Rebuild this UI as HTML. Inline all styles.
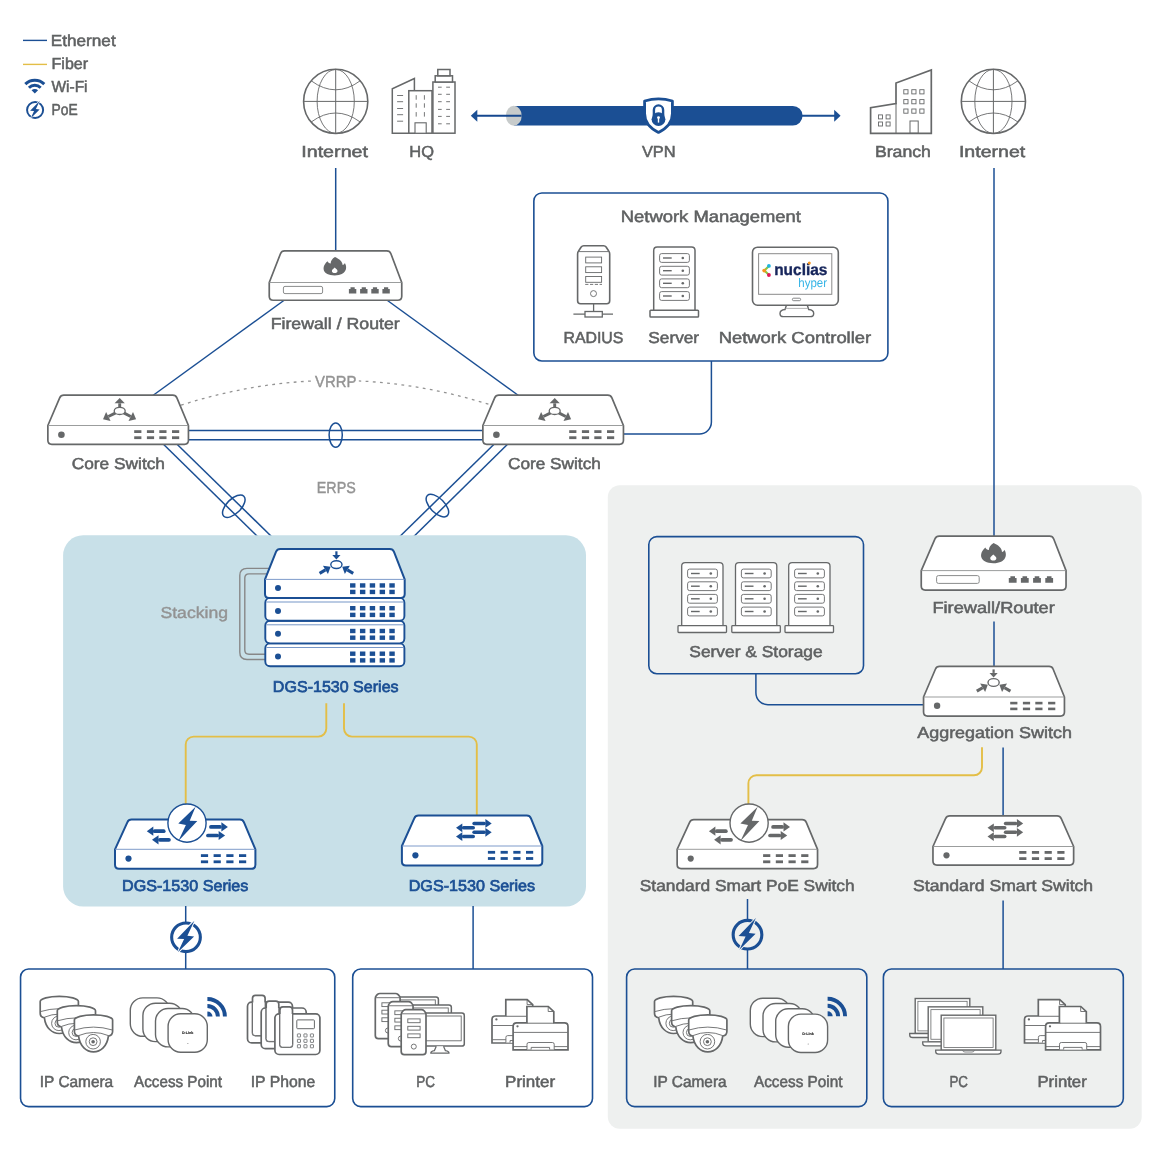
<!DOCTYPE html>
<html><head><meta charset="utf-8"><title>Network Diagram</title>
<style>html,body{margin:0;padding:0;background:#fff}svg{display:block;will-change:transform}text{font-family:"Liberation Sans",sans-serif;text-rendering:geometricPrecision}</style>
</head><body>
<svg width="1160" height="1160" viewBox="0 0 1160 1160">
<rect width="1160" height="1160" fill="#fff"/>
<g stroke="#1b4f94" stroke-width="1.5" fill="none">
<line x1="163.2" y1="444" x2="258" y2="537"/>
<line x1="176.8" y1="444" x2="272" y2="537"/>
<line x1="494.3" y1="444" x2="399.3" y2="537"/>
<line x1="507.8" y1="444" x2="413.3" y2="537"/>
</g>
<rect x="63.1" y="535.3" width="522.9" height="371.1" rx="20" fill="#c8e0e8"/>
<rect x="607.8" y="485.2" width="533.9" height="643.5" rx="12" fill="#eef0ef"/>
<g stroke="#1b4f94" stroke-width="1.5" fill="none">
<line x1="335.7" y1="168" x2="335.7" y2="252"/>
<line x1="284.5" y1="300" x2="151.5" y2="396.5"/>
<line x1="386.8" y1="300" x2="519.8" y2="396.5"/>
<line x1="186" y1="430.4" x2="485" y2="430.4"/>
<line x1="186" y1="439.8" x2="485" y2="439.8"/>
<ellipse cx="335.7" cy="435.1" rx="6.6" ry="12.2"/>
<ellipse cx="233.8" cy="506.2" rx="7.2" ry="14.2" transform="rotate(45 233.8 506.2)"/>
<ellipse cx="437.4" cy="505.6" rx="7.2" ry="14.2" transform="rotate(-45 437.4 505.6)"/>
<path d="M711.4,360 V422 A12,12 0 0 1 699.4,434 H621"/>
<line x1="994" y1="168" x2="994" y2="537"/>
<line x1="994" y1="621.5" x2="994" y2="667"/>
<path d="M755.9,673 V692.7 A12,12 0 0 0 767.9,704.7 H925"/>
<line x1="1003.1" y1="747.6" x2="1003.1" y2="817"/>
<line x1="1003.1" y1="900.6" x2="1003.1" y2="969"/>
<line x1="747.5" y1="899" x2="747.5" y2="969"/>
<line x1="185.7" y1="906" x2="185.7" y2="969"/>
<line x1="473.1" y1="906" x2="473.1" y2="969"/>
</g>
<path d="M181,405.2 Q336,355.6 491.5,405.2" fill="none" stroke="#939393" stroke-width="1.3" stroke-dasharray="2.8 4.4"/>
<rect x="313.3" y="372" width="45.4" height="18" fill="#fff"/>
<g stroke="#e3be47" stroke-width="1.9" fill="none">
<path d="M326.3,703.2 V728.6 A8,8 0 0 1 318.3,736.6 H193.7 A8,8 0 0 0 185.7,744.6 V805"/>
<path d="M344,703.2 V728.6 A8,8 0 0 0 352,736.6 H468.8 A8,8 0 0 1 476.8,744.6 V816.5"/>
<path d="M982,747.2 V767.3 A8,8 0 0 1 974,775.3 H756.4 A8,8 0 0 0 748.4,783.3 V805"/>
</g>
<g fill="none" stroke="#1b4f94" stroke-width="1.6">
<rect x="533.85" y="192.95" width="354.05" height="168.05" rx="8" fill="#fff"/>
<rect x="648.8" y="536.6" width="214.7" height="137.1" rx="8"/>
<rect x="20.55" y="969.0" width="314.2" height="137.6" rx="8" fill="#fff"/>
<rect x="352.7" y="969.0" width="239.8" height="137.6" rx="8" fill="#fff"/>
<rect x="626.6" y="969.0" width="240.2" height="137.6" rx="8"/>
<rect x="883.4" y="969.0" width="239.9" height="137.6" rx="8"/>
</g>
<line x1="23" y1="40.4" x2="47" y2="40.4" stroke="#1b4f94" stroke-width="1.4"/>
<line x1="23" y1="64.4" x2="47" y2="64.4" stroke="#e3be47" stroke-width="1.4"/>
<path d="M25.32,84.12 A13.4,13.4 0 0 1 44.28,84.12" fill="none" stroke="#1b4f94" stroke-width="3.0"/>
<path d="M28.93,87.73 A8.3,8.3 0 0 1 40.67,87.73" fill="none" stroke="#1b4f94" stroke-width="2.9"/>
<path d="M34.8,93.6 L31.55,90.35 A4.6,4.6 0 0 1 38.05,90.35 Z" fill="#1b4f94"/>
<circle cx="35.1" cy="110" r="8.04" fill="#fff" stroke="#1b4f94" stroke-width="1.94"/>
<polygon points="39.80,100.70 30.12,110.78 34.04,110.95 30.56,118.40 39.64,109.50 35.88,109.10" fill="#fff" stroke="#fff" stroke-width="1.12" stroke-linejoin="miter"/>
<polygon points="39.80,100.70 30.12,110.78 34.04,110.95 30.56,118.40 39.64,109.50 35.88,109.10" fill="#1b4f94"/>
<text x="50.72" y="45.6" font-size="15.9" font-weight="normal" fill="#5f6162" stroke="#5f6162" stroke-width="0.52" textLength="64.97" lengthAdjust="spacingAndGlyphs">Ethernet</text>
<text x="51.51" y="68.6" font-size="15.9" font-weight="normal" fill="#5f6162" stroke="#5f6162" stroke-width="0.52" textLength="36.60" lengthAdjust="spacingAndGlyphs">Fiber</text>
<text x="51.43" y="92.3" font-size="15.9" font-weight="normal" fill="#5f6162" stroke="#5f6162" stroke-width="0.52" textLength="36.14" lengthAdjust="spacingAndGlyphs">Wi-Fi</text>
<text x="51.54" y="115.0" font-size="15.9" font-weight="normal" fill="#5f6162" stroke="#5f6162" stroke-width="0.52" textLength="26.12" lengthAdjust="spacingAndGlyphs">PoE</text>
<g fill="none" stroke="#666869">
<circle cx="335.7" cy="101.4" r="32.1" stroke-width="1.6" fill="#fff"/>
<ellipse cx="335.7" cy="101.4" rx="18.6" ry="32" stroke-width="0.9"/>
<line x1="335.7" y1="69.4" x2="335.7" y2="133.4" stroke-width="1"/>
<line x1="303.7" y1="101.4" x2="367.7" y2="101.4" stroke-width="1"/>
<path d="M311.2,80.80000000000001 Q335.7,98.80000000000001 360.2,80.80000000000001" stroke-width="0.9"/>
<path d="M311.2,122.0 Q335.7,104.0 360.2,122.0" stroke-width="0.9"/>
</g>
<g fill="none" stroke="#666869">
<circle cx="993.4" cy="101.4" r="32.1" stroke-width="1.6" fill="#fff"/>
<ellipse cx="993.4" cy="101.4" rx="18.6" ry="32" stroke-width="0.9"/>
<line x1="993.4" y1="69.4" x2="993.4" y2="133.4" stroke-width="1"/>
<line x1="961.4" y1="101.4" x2="1025.4" y2="101.4" stroke-width="1"/>
<path d="M968.9,80.80000000000001 Q993.4,98.80000000000001 1017.9,80.80000000000001" stroke-width="0.9"/>
<path d="M968.9,122.0 Q993.4,104.0 1017.9,122.0" stroke-width="0.9"/>
</g>
<g fill="#fff" stroke="#666869" stroke-width="1.5" stroke-linejoin="miter">
<path d="M392.3,133.2 V88.7 L414.4,78.5 V133.2 Z"/>
<rect x="408.8" y="90.7" width="23.2" height="42.5"/>
<rect x="432.9" y="82" width="22.1" height="51.2"/>
<rect x="435.2" y="75.8" width="17.3" height="6.2"/>
<rect x="437.8" y="69.5" width="12.2" height="6.3"/>
<rect x="415" y="122.8" width="11.2" height="10.4" stroke-width="1.1"/>
</g>
<g stroke="#666869" stroke-width="0.9" fill="none">
<line x1="397.1" y1="95.5" x2="403.1" y2="95.5"/>
<line x1="397.1" y1="101.7" x2="403.1" y2="101.7"/>
<line x1="397.1" y1="108.5" x2="403.1" y2="108.5"/>
<line x1="397.1" y1="114.7" x2="403.1" y2="114.7"/>
<line x1="397.1" y1="121.2" x2="403.1" y2="121.2"/>
<line x1="416.2" y1="95.2" x2="416.2" y2="99.7"/>
<line x1="416.2" y1="103.3" x2="416.2" y2="107.7"/>
<line x1="416.2" y1="112.1" x2="416.2" y2="116.6"/>
<line x1="424.4" y1="95.2" x2="424.4" y2="99.7"/>
<line x1="424.4" y1="103.3" x2="424.4" y2="107.7"/>
<line x1="424.4" y1="112.1" x2="424.4" y2="116.6"/>
<line x1="438" y1="87.2" x2="441.7" y2="87.2"/>
<line x1="446.2" y1="87.2" x2="450" y2="87.2"/>
<line x1="438" y1="94.3" x2="441.7" y2="94.3"/>
<line x1="446.2" y1="94.3" x2="450" y2="94.3"/>
<line x1="438" y1="101.7" x2="441.7" y2="101.7"/>
<line x1="446.2" y1="101.7" x2="450" y2="101.7"/>
<line x1="438" y1="109.4" x2="441.7" y2="109.4"/>
<line x1="446.2" y1="109.4" x2="450" y2="109.4"/>
<line x1="438" y1="116.4" x2="441.7" y2="116.4"/>
<line x1="446.2" y1="116.4" x2="450" y2="116.4"/>
<line x1="438" y1="123.8" x2="441.7" y2="123.8"/>
<line x1="446.2" y1="123.8" x2="450" y2="123.8"/>
</g>
<path d="M870.6,133.3 V107.7 L896,103.5 V83 L931.3,70 V133.3 Z" fill="#fff" stroke="#666869" stroke-width="1.7"/>
<g stroke="#666869" stroke-width="1" fill="none">
<line x1="896" y1="103" x2="896" y2="133.3"/>
<rect x="903.8" y="89.7" width="4.2" height="4.2" stroke-width="0.9"/>
<rect x="903.8" y="99.60000000000001" width="4.2" height="4.2" stroke-width="0.9"/>
<rect x="903.8" y="109.0" width="4.2" height="4.2" stroke-width="0.9"/>
<rect x="911.8" y="89.7" width="4.2" height="4.2" stroke-width="0.9"/>
<rect x="911.8" y="99.60000000000001" width="4.2" height="4.2" stroke-width="0.9"/>
<rect x="911.8" y="109.0" width="4.2" height="4.2" stroke-width="0.9"/>
<rect x="919.8" y="89.7" width="4.2" height="4.2" stroke-width="0.9"/>
<rect x="919.8" y="99.60000000000001" width="4.2" height="4.2" stroke-width="0.9"/>
<rect x="919.8" y="109.0" width="4.2" height="4.2" stroke-width="0.9"/>
<rect x="878.5" y="114.9" width="4.0" height="4.0" stroke-width="0.9"/>
<rect x="878.5" y="122.0" width="4.0" height="4.0" stroke-width="0.9"/>
<rect x="886.1" y="114.9" width="4.0" height="4.0" stroke-width="0.9"/>
<rect x="886.1" y="122.0" width="4.0" height="4.0" stroke-width="0.9"/>
<rect x="910" y="121" width="8.2" height="12.3"/>
</g>
<line x1="800" y1="115.75" x2="835.5" y2="115.75" stroke="#1b4f94" stroke-width="2"/>
<polygon points="840.6,115.75 834.2,109.75 834.2,121.75" fill="#1b4f94"/>
<path d="M514,106 H792.8 a9.75,9.75 0 0 1 0,19.5 H514 Z" fill="#1b4f94"/>
<ellipse cx="513.8" cy="115.75" rx="7.9" ry="9.9" fill="#c7cbcb"/>
<line x1="476" y1="115.75" x2="521.6" y2="115.75" stroke="#15478f" stroke-width="1.9"/>
<polygon points="470.8,115.75 477.3,109.65 477.3,121.85" fill="#1b4f94"/>
<path d="M644.6,101 Q658.5,96.6 672.4,101 V113.5 C672.4,122 666.5,128.5 658.5,132.4 C650.5,128.5 644.6,122 644.6,113.5 Z" fill="#fff" stroke="#1b4f94" stroke-width="2.8" stroke-linejoin="round"/>
<circle cx="658.5" cy="119.2" r="6.9" fill="#1b4f94"/>
<path d="M653.9,116 V110 a4.6,4.6 0 0 1 9.2,0 V116" fill="none" stroke="#1b4f94" stroke-width="2.4"/>
<circle cx="658.5" cy="117.6" r="1.4" fill="#fff"/><rect x="657.8" y="117.6" width="1.4" height="5" fill="#fff"/>
<text x="301.23" y="157.4" font-size="15.9" font-weight="normal" fill="#5f6162" stroke="#5f6162" stroke-width="0.52" textLength="66.80" lengthAdjust="spacingAndGlyphs">Internet</text>
<text x="409.35" y="157.4" font-size="15.9" font-weight="normal" fill="#5f6162" stroke="#5f6162" stroke-width="0.52" textLength="24.67" lengthAdjust="spacingAndGlyphs">HQ</text>
<text x="641.93" y="157.4" font-size="15.9" font-weight="normal" fill="#5f6162" stroke="#5f6162" stroke-width="0.52" textLength="33.75" lengthAdjust="spacingAndGlyphs">VPN</text>
<text x="874.92" y="157.4" font-size="15.9" font-weight="normal" fill="#5f6162" stroke="#5f6162" stroke-width="0.52" textLength="56.04" lengthAdjust="spacingAndGlyphs">Branch</text>
<text x="958.95" y="157.4" font-size="15.9" font-weight="normal" fill="#5f6162" stroke="#5f6162" stroke-width="0.52" textLength="66.33" lengthAdjust="spacingAndGlyphs">Internet</text>
<path d="M284.55,250.95 L386.85,250.95 Q389.85,250.95 390.91,253.76 L401.75,282.50 L401.75,296.25 Q401.75,300.25 397.75,300.25 L273.25,300.25 Q269.25,300.25 269.25,296.25 L269.25,282.50 L280.46,253.75 Q281.55,250.95 284.55,250.95 Z" fill="#fff" stroke="#666869" stroke-width="1.7" stroke-linejoin="round"/>
<line x1="269.25" y1="282.50" x2="401.75" y2="282.50" stroke="#909292" stroke-width="0.9"/>
<path d="M335.00,257.10 C339.50,259.30 342.50,261.70 342.60,265.10 C343.70,264.90 344.50,264.20 344.80,263.10 C347.50,267.10 347.10,275.30 334.70,275.40 C322.30,275.30 320.90,266.90 327.50,261.20 C327.90,262.50 329.10,263.20 330.70,263.40 C330.70,261.10 332.10,258.70 335.00,257.10 Z" fill="#666869"/>
<path d="M334.70,267.50 C336.10,268.90 337.50,269.70 337.50,270.90 C337.50,272.30 336.20,273.00 334.70,273.00 C333.20,273.00 331.90,272.30 331.90,270.90 C331.90,269.70 333.30,268.90 334.70,267.50 Z" fill="#fff"/>
<rect x="283.4" y="286.4" width="39.2" height="7.2" rx="1.6" fill="#fff" stroke="#8a8c8c" stroke-width="1"/>
<path d="M348.9,293.59999999999997 V289.0 H350.5 V287.2 H354.69999999999993 V289.0 H356.29999999999995 V293.59999999999997 Z" fill="#666869"/>
<path d="M360.1,293.59999999999997 V289.0 H361.70000000000005 V287.2 H365.9 V289.0 H367.5 V293.59999999999997 Z" fill="#666869"/>
<path d="M371.3,293.59999999999997 V289.0 H372.90000000000003 V287.2 H377.09999999999997 V289.0 H378.7 V293.59999999999997 Z" fill="#666869"/>
<path d="M382.4,293.59999999999997 V289.0 H384.0 V287.2 H388.19999999999993 V289.0 H389.79999999999995 V293.59999999999997 Z" fill="#666869"/>
<text x="270.69" y="329.0" font-size="15.9" font-weight="normal" fill="#5f6162" stroke="#5f6162" stroke-width="0.52" textLength="129.05" lengthAdjust="spacingAndGlyphs">Firewall / Router</text>
<path d="M63.85,395.15 L172.75,395.15 Q175.75,395.15 176.91,397.92 L188.44,425.50 L188.44,440.35 Q188.44,444.35 184.44,444.35 L51.86,444.35 Q47.86,444.35 47.86,440.35 L47.86,425.50 L59.67,397.91 Q60.85,395.15 63.85,395.15 Z" fill="#fff" stroke="#666869" stroke-width="1.7" stroke-linejoin="round"/>
<line x1="47.86" y1="425.50" x2="188.44" y2="425.50" stroke="#909292" stroke-width="0.9"/>
<circle cx="61.4" cy="434.7" r="3.3" fill="#666869"/>
<rect x="134.20" y="430.20" width="7.2" height="2.8" fill="#666869"/>
<rect x="134.20" y="436.30" width="7.2" height="2.8" fill="#666869"/>
<rect x="146.90" y="430.20" width="7.2" height="2.8" fill="#666869"/>
<rect x="146.90" y="436.30" width="7.2" height="2.8" fill="#666869"/>
<rect x="159.30" y="430.20" width="7.2" height="2.8" fill="#666869"/>
<rect x="159.30" y="436.30" width="7.2" height="2.8" fill="#666869"/>
<rect x="172.00" y="430.20" width="7.2" height="2.8" fill="#666869"/>
<rect x="172.00" y="436.30" width="7.2" height="2.8" fill="#666869"/>
<line x1="119.70" y1="407.90" x2="119.70" y2="403.30" stroke="#666869" stroke-width="2.9"/>
<polygon points="119.70,398.10 124.80,403.30 114.60,403.30" fill="#666869"/>
<line x1="115.70" y1="412.90" x2="108.38" y2="416.53" stroke="#666869" stroke-width="2.9"/>
<polygon points="103.00,419.20 106.15,412.05 110.60,421.01" fill="#666869"/>
<line x1="123.70" y1="412.90" x2="130.75" y2="416.48" stroke="#666869" stroke-width="2.9"/>
<polygon points="136.10,419.20 128.49,420.94 133.02,412.02" fill="#666869"/>
<ellipse cx="119.7" cy="410.9" rx="5.5" ry="3.6" fill="#fff" stroke="#666869" stroke-width="1.3"/>
<path d="M498.85,395.15 L607.75,395.15 Q610.75,395.15 611.91,397.92 L623.45,425.50 L623.45,440.35 Q623.45,444.35 619.45,444.35 L486.86,444.35 Q482.86,444.35 482.86,440.35 L482.86,425.50 L494.67,397.91 Q495.85,395.15 498.85,395.15 Z" fill="#fff" stroke="#666869" stroke-width="1.7" stroke-linejoin="round"/>
<line x1="482.86" y1="425.50" x2="623.45" y2="425.50" stroke="#909292" stroke-width="0.9"/>
<circle cx="496.4" cy="434.7" r="3.3" fill="#666869"/>
<rect x="569.20" y="430.20" width="7.2" height="2.8" fill="#666869"/>
<rect x="569.20" y="436.30" width="7.2" height="2.8" fill="#666869"/>
<rect x="581.90" y="430.20" width="7.2" height="2.8" fill="#666869"/>
<rect x="581.90" y="436.30" width="7.2" height="2.8" fill="#666869"/>
<rect x="594.30" y="430.20" width="7.2" height="2.8" fill="#666869"/>
<rect x="594.30" y="436.30" width="7.2" height="2.8" fill="#666869"/>
<rect x="607.00" y="430.20" width="7.2" height="2.8" fill="#666869"/>
<rect x="607.00" y="436.30" width="7.2" height="2.8" fill="#666869"/>
<line x1="554.70" y1="407.90" x2="554.70" y2="403.30" stroke="#666869" stroke-width="2.9"/>
<polygon points="554.70,398.10 559.80,403.30 549.60,403.30" fill="#666869"/>
<line x1="550.70" y1="412.90" x2="543.38" y2="416.53" stroke="#666869" stroke-width="2.9"/>
<polygon points="538.00,419.20 541.15,412.05 545.60,421.01" fill="#666869"/>
<line x1="558.70" y1="412.90" x2="565.75" y2="416.48" stroke="#666869" stroke-width="2.9"/>
<polygon points="571.10,419.20 563.49,420.94 568.02,412.02" fill="#666869"/>
<ellipse cx="554.7" cy="410.9" rx="5.5" ry="3.6" fill="#fff" stroke="#666869" stroke-width="1.3"/>
<text x="71.75" y="468.9" font-size="15.9" font-weight="normal" fill="#5f6162" stroke="#5f6162" stroke-width="0.52" textLength="93.23" lengthAdjust="spacingAndGlyphs">Core Switch</text>
<text x="508.06" y="468.9" font-size="15.9" font-weight="normal" fill="#5f6162" stroke="#5f6162" stroke-width="0.52" textLength="92.77" lengthAdjust="spacingAndGlyphs">Core Switch</text>
<text x="315.00" y="386.9" font-size="15.9" font-weight="normal" fill="#939393" stroke="#939393" stroke-width="0.4" textLength="41.40" lengthAdjust="spacingAndGlyphs">VRRP</text>
<text x="316.83" y="492.8" font-size="15.9" font-weight="normal" fill="#939393" stroke="#939393" stroke-width="0.4" textLength="38.93" lengthAdjust="spacingAndGlyphs">ERPS</text>
<text x="620.74" y="221.6" font-size="16.3" font-weight="normal" fill="#5f6162" stroke="#5f6162" stroke-width="0.52" textLength="180.13" lengthAdjust="spacingAndGlyphs">Network Management</text>
<g stroke="#666869" fill="#fff">
<path d="M577.6,300.8 V254 Q577.6,252 578.6,251 L581.2,247 Q582.1,245.8 583.7,245.8 H603.6 Q605.2,245.8 606.1,247 L608.7,251 Q609.7,252 609.7,254 V300.8 Q609.7,303.8 606.7,303.8 H580.6 Q577.6,303.8 577.6,300.8 Z" stroke-width="1.6" stroke-linejoin="round"/>
<line x1="578.6" y1="251.6" x2="608.6" y2="251.6" stroke-width="0.9"/>
<rect x="585.7" y="257.1" width="15.9" height="5.8" stroke-width="0.9"/>
<rect x="585.7" y="266.8" width="15.9" height="5.8" stroke-width="0.9"/>
<rect x="585.7" y="276.5" width="15.9" height="5.8" stroke-width="0.9"/>
<line x1="585.2" y1="284.4" x2="602" y2="284.4" stroke-width="0.9" stroke-dasharray="3.2 1.6"/>
<circle cx="593.5" cy="293.6" r="3" stroke-width="0.9"/>
<line x1="593.6" y1="303.8" x2="593.6" y2="311.3" stroke-width="1.3"/>
<line x1="573.4" y1="314.2" x2="613" y2="314.2" stroke-width="1.3"/>
<rect x="585" y="311.5" width="17.3" height="5.5" stroke-width="1.3"/>
</g>
<g transform="translate(0.00,0.00)" stroke="#666869" fill="#fff">
<path d="M653.7,310.2 V250.6 Q653.7,247.1 657.2,247.1 H691.5 Q695,247.1 695,250.6 V310.2" stroke-width="1.5"/>
<rect x="650" y="310.2" width="48.5" height="6.8" rx="0.8" stroke-width="1.5"/>
<rect x="659.6" y="253.6" width="29.8" height="8.8" rx="2" stroke-width="0.9"/>
<line x1="663" y1="258.0" x2="671.7" y2="258.0" stroke-width="1.4"/>
<circle cx="682.8" cy="258.0" r="1.3" fill="#666869" stroke="none"/>
<rect x="659.6" y="266.3" width="29.8" height="8.8" rx="2" stroke-width="0.9"/>
<line x1="663" y1="270.7" x2="671.7" y2="270.7" stroke-width="1.4"/>
<circle cx="682.8" cy="270.7" r="1.3" fill="#666869" stroke="none"/>
<rect x="659.6" y="278.9" width="29.8" height="8.8" rx="2" stroke-width="0.9"/>
<line x1="663" y1="283.29999999999995" x2="671.7" y2="283.29999999999995" stroke-width="1.4"/>
<circle cx="682.8" cy="283.29999999999995" r="1.3" fill="#666869" stroke="none"/>
<rect x="659.6" y="291.6" width="29.8" height="8.8" rx="2" stroke-width="0.9"/>
<line x1="663" y1="296.0" x2="671.7" y2="296.0" stroke-width="1.4"/>
<circle cx="682.8" cy="296.0" r="1.3" fill="#666869" stroke="none"/>
</g>
<g stroke="#666869" fill="#fff">
<path d="M786.5,305 L785,309.5 Q780,310 780,313.4 Q780,316.6 783.5,316.6 H810.2 Q813.7,316.6 813.7,313.4 Q813.7,310 808.7,309.5 L807.2,305" stroke-width="1.4"/>
<line x1="785.6" y1="308.4" x2="808.2" y2="308.4" stroke-width="0.9" stroke="#aaa"/>
<rect x="752.5" y="247.2" width="85.8" height="58" rx="5" stroke-width="1.6"/>
<rect x="758.6" y="253.7" width="73.2" height="40.6" stroke-width="1" stroke="#8a8a8a"/>
<rect x="792.4" y="298.2" width="8.2" height="2.5" rx="1.2" stroke-width="0.8"/>
</g>
<path d="M769,266 L764.4,270.6 L769,275" fill="none" stroke="#8dc63f" stroke-width="2.1" stroke-linecap="round" stroke-linejoin="round"/>
<circle cx="768.9" cy="265.9" r="1.9" fill="#1fb5e0"/>
<circle cx="764.2" cy="270.6" r="1.9" fill="#f7941d"/>
<circle cx="768.9" cy="275" r="1.9" fill="#e2175b"/>
<text x="774.2" y="275.4" font-size="16" font-weight="bold" fill="#16255b" stroke="#16255b" stroke-width="0.35" textLength="53.2" lengthAdjust="spacingAndGlyphs">nuclias</text>
<circle cx="809.3" cy="263" r="1.5" fill="#f7941d"/>
<text x="798.3" y="286.6" font-size="12.5" fill="#35b4e6" textLength="28.7" lengthAdjust="spacingAndGlyphs">hyper</text>
<text x="563.45" y="342.7" font-size="15.9" font-weight="normal" fill="#5f6162" stroke="#5f6162" stroke-width="0.52" textLength="59.97" lengthAdjust="spacingAndGlyphs">RADIUS</text>
<text x="648.31" y="342.7" font-size="15.9" font-weight="normal" fill="#5f6162" stroke="#5f6162" stroke-width="0.52" textLength="50.82" lengthAdjust="spacingAndGlyphs">Server</text>
<text x="718.67" y="342.7" font-size="15.9" font-weight="normal" fill="#5f6162" stroke="#5f6162" stroke-width="0.52" textLength="152.55" lengthAdjust="spacingAndGlyphs">Network Controller</text>
<g fill="none" stroke="#878787" stroke-width="1.4">
<path d="M272,568.4 H247 Q239.8,568.4 239.8,575.6 V652.3 Q239.8,659.5 247,659.5 H270"/>
<path d="M272,573.9 H249 Q244.8,573.9 244.8,578.1 V650.1 Q244.8,654.3 249,654.3 H270"/>
</g>
<rect x="265.3" y="643.4" width="139.1" height="22.8" rx="4.8" fill="#fff" stroke="#1b4f94" stroke-width="1.9"/>
<line x1="266.5" y1="647.5" x2="403.2" y2="647.5" stroke="#6f90c4" stroke-width="0.95"/>
<circle cx="278" cy="656.4" r="3.0" fill="#1b4f94"/>
<rect x="350.05" y="651.50" width="5.4" height="4.4" fill="#1b4f94"/>
<rect x="350.05" y="658.20" width="5.4" height="4.4" fill="#1b4f94"/>
<rect x="359.95" y="651.50" width="5.4" height="4.4" fill="#1b4f94"/>
<rect x="359.95" y="658.20" width="5.4" height="4.4" fill="#1b4f94"/>
<rect x="369.75" y="651.50" width="5.4" height="4.4" fill="#1b4f94"/>
<rect x="369.75" y="658.20" width="5.4" height="4.4" fill="#1b4f94"/>
<rect x="379.65" y="651.50" width="5.4" height="4.4" fill="#1b4f94"/>
<rect x="379.65" y="658.20" width="5.4" height="4.4" fill="#1b4f94"/>
<rect x="389.35" y="651.50" width="5.4" height="4.4" fill="#1b4f94"/>
<rect x="389.35" y="658.20" width="5.4" height="4.4" fill="#1b4f94"/>
<rect x="265.3" y="620.7" width="139.1" height="22.7" rx="4.8" fill="#fff" stroke="#1b4f94" stroke-width="1.9"/>
<line x1="266.5" y1="624.8" x2="403.2" y2="624.8" stroke="#6f90c4" stroke-width="0.95"/>
<circle cx="278" cy="633.7" r="3.0" fill="#1b4f94"/>
<rect x="350.05" y="628.80" width="5.4" height="4.4" fill="#1b4f94"/>
<rect x="350.05" y="635.50" width="5.4" height="4.4" fill="#1b4f94"/>
<rect x="359.95" y="628.80" width="5.4" height="4.4" fill="#1b4f94"/>
<rect x="359.95" y="635.50" width="5.4" height="4.4" fill="#1b4f94"/>
<rect x="369.75" y="628.80" width="5.4" height="4.4" fill="#1b4f94"/>
<rect x="369.75" y="635.50" width="5.4" height="4.4" fill="#1b4f94"/>
<rect x="379.65" y="628.80" width="5.4" height="4.4" fill="#1b4f94"/>
<rect x="379.65" y="635.50" width="5.4" height="4.4" fill="#1b4f94"/>
<rect x="389.35" y="628.80" width="5.4" height="4.4" fill="#1b4f94"/>
<rect x="389.35" y="635.50" width="5.4" height="4.4" fill="#1b4f94"/>
<rect x="265.3" y="597.9" width="139.1" height="22.8" rx="4.8" fill="#fff" stroke="#1b4f94" stroke-width="1.9"/>
<line x1="266.5" y1="602.0" x2="403.2" y2="602.0" stroke="#6f90c4" stroke-width="0.95"/>
<circle cx="278" cy="610.9" r="3.0" fill="#1b4f94"/>
<rect x="350.05" y="606.00" width="5.4" height="4.4" fill="#1b4f94"/>
<rect x="350.05" y="612.70" width="5.4" height="4.4" fill="#1b4f94"/>
<rect x="359.95" y="606.00" width="5.4" height="4.4" fill="#1b4f94"/>
<rect x="359.95" y="612.70" width="5.4" height="4.4" fill="#1b4f94"/>
<rect x="369.75" y="606.00" width="5.4" height="4.4" fill="#1b4f94"/>
<rect x="369.75" y="612.70" width="5.4" height="4.4" fill="#1b4f94"/>
<rect x="379.65" y="606.00" width="5.4" height="4.4" fill="#1b4f94"/>
<rect x="379.65" y="612.70" width="5.4" height="4.4" fill="#1b4f94"/>
<rect x="389.35" y="606.00" width="5.4" height="4.4" fill="#1b4f94"/>
<rect x="389.35" y="612.70" width="5.4" height="4.4" fill="#1b4f94"/>
<path d="M280.18,548.90 L389.82,548.90 Q392.82,548.90 393.91,551.70 L404.70,579.40 L404.70,593.90 Q404.70,597.90 400.70,597.90 L269.00,597.90 Q265.00,597.90 265.00,593.90 L265.00,579.40 L276.07,551.69 Q277.18,548.90 280.18,548.90 Z" fill="#fff" stroke="#1b4f94" stroke-width="2.0" stroke-linejoin="round"/>
<line x1="265.00" y1="579.40" x2="404.70" y2="579.40" stroke="#6f90c4" stroke-width="0.9"/>
<circle cx="278" cy="588" r="3.0" fill="#1b4f94"/>
<rect x="350.05" y="583.25" width="5.4" height="4.4" fill="#1b4f94"/>
<rect x="350.05" y="589.75" width="5.4" height="4.4" fill="#1b4f94"/>
<rect x="359.95" y="583.25" width="5.4" height="4.4" fill="#1b4f94"/>
<rect x="359.95" y="589.75" width="5.4" height="4.4" fill="#1b4f94"/>
<rect x="369.75" y="583.25" width="5.4" height="4.4" fill="#1b4f94"/>
<rect x="369.75" y="589.75" width="5.4" height="4.4" fill="#1b4f94"/>
<rect x="379.65" y="583.25" width="5.4" height="4.4" fill="#1b4f94"/>
<rect x="379.65" y="589.75" width="5.4" height="4.4" fill="#1b4f94"/>
<rect x="389.35" y="583.25" width="5.4" height="4.4" fill="#1b4f94"/>
<rect x="389.35" y="589.75" width="5.4" height="4.4" fill="#1b4f94"/>
<line x1="336.40" y1="551.30" x2="336.40" y2="555.00" stroke="#1b4f94" stroke-width="2.2"/>
<polygon points="336.40,559.50 332.30,555.00 340.50,555.00" fill="#1b4f94"/>
<line x1="319.60" y1="573.30" x2="325.43" y2="569.85" stroke="#1b4f94" stroke-width="3.1"/>
<polygon points="330.60,566.80 327.93,574.07 322.94,565.63" fill="#1b4f94"/>
<line x1="353.20" y1="573.30" x2="347.37" y2="569.85" stroke="#1b4f94" stroke-width="3.1"/>
<polygon points="342.20,566.80 349.86,565.63 344.87,574.07" fill="#1b4f94"/>
<ellipse cx="336.4" cy="564.6" rx="5.6" ry="3.9" fill="#fff" stroke="#1b4f94" stroke-width="1.4"/>
<text x="160.45" y="618.3" font-size="15.9" font-weight="normal" fill="#939393" stroke="#939393" stroke-width="0.4" textLength="67.59" lengthAdjust="spacingAndGlyphs">Stacking</text>
<text x="272.88" y="692.0" font-size="15.7" font-weight="normal" fill="#1b4f94" stroke="#1b4f94" stroke-width="0.7" textLength="125.71" lengthAdjust="spacingAndGlyphs">DGS-1530 Series</text>
<path d="M131.58,819.60 L239.82,819.60 Q242.82,819.60 243.99,822.36 L255.40,849.30 L255.40,864.80 Q255.40,868.80 251.40,868.80 L119.00,868.80 Q115.00,868.80 115.00,864.80 L115.00,849.30 L127.33,822.33 Q128.58,819.60 131.58,819.60 Z" fill="#fff" stroke="#1b4f94" stroke-width="2.0" stroke-linejoin="round"/>
<line x1="115.00" y1="849.30" x2="255.40" y2="849.30" stroke="#6f90c4" stroke-width="0.9"/>
<polygon points="146.80,831.20 153.30,826.60 153.30,835.80" fill="#1b4f94"/>
<rect x="152.80" y="829.35" width="12.80" height="3.7" rx="1.85" fill="#1b4f94"/>
<polygon points="152.00,839.80 158.50,835.20 158.50,844.40" fill="#1b4f94"/>
<rect x="158.00" y="837.95" width="12.80" height="3.7" rx="1.85" fill="#1b4f94"/>
<polygon points="227.90,826.90 221.40,822.30 221.40,831.50" fill="#1b4f94"/>
<rect x="209.10" y="825.05" width="12.80" height="3.7" rx="1.85" fill="#1b4f94"/>
<polygon points="225.10,835.50 218.60,830.90 218.60,840.10" fill="#1b4f94"/>
<rect x="206.10" y="833.65" width="13.00" height="3.7" rx="1.85" fill="#1b4f94"/>
<circle cx="187" cy="823.1" r="19.1" fill="#fff" stroke="#1b4f94" stroke-width="1.4"/>
<polygon points="195.60,806.70 178.30,823.50 185.90,825.10 178.40,841.10 197.30,821.10 189.70,820.70" fill="#1b4f94"/>
<circle cx="128.5" cy="858.6" r="3.1" fill="#1b4f94"/>
<rect x="200.90" y="854.20" width="7.2" height="2.8" fill="#1b4f94"/>
<rect x="200.90" y="860.40" width="7.2" height="2.8" fill="#1b4f94"/>
<rect x="213.60" y="854.20" width="7.2" height="2.8" fill="#1b4f94"/>
<rect x="213.60" y="860.40" width="7.2" height="2.8" fill="#1b4f94"/>
<rect x="226.30" y="854.20" width="7.2" height="2.8" fill="#1b4f94"/>
<rect x="226.30" y="860.40" width="7.2" height="2.8" fill="#1b4f94"/>
<rect x="239.00" y="854.20" width="7.2" height="2.8" fill="#1b4f94"/>
<rect x="239.00" y="860.40" width="7.2" height="2.8" fill="#1b4f94"/>
<text x="122.06" y="891.1" font-size="15.7" font-weight="normal" fill="#1b4f94" stroke="#1b4f94" stroke-width="0.7" textLength="126.33" lengthAdjust="spacingAndGlyphs">DGS-1530 Series</text>
<path d="M418.48,815.60 L526.82,815.60 Q529.82,815.60 530.96,818.38 L542.30,846.00 L542.30,861.40 Q542.30,865.40 538.30,865.40 L405.90,865.40 Q401.90,865.40 401.90,861.40 L401.90,846.00 L414.26,818.34 Q415.48,815.60 418.48,815.60 Z" fill="#fff" stroke="#1b4f94" stroke-width="2.0" stroke-linejoin="round"/>
<line x1="401.90" y1="846.00" x2="542.30" y2="846.00" stroke="#6f90c4" stroke-width="0.9"/>
<polygon points="456.00,827.80 462.30,823.40 462.30,832.20" fill="#1b4f94"/>
<rect x="461.80" y="826.05" width="13.20" height="3.5" rx="1.75" fill="#1b4f94"/>
<polygon points="456.00,836.60 462.30,832.20 462.30,841.00" fill="#1b4f94"/>
<rect x="461.80" y="834.85" width="13.20" height="3.5" rx="1.75" fill="#1b4f94"/>
<polygon points="491.70,823.40 485.40,819.00 485.40,827.80" fill="#1b4f94"/>
<rect x="472.30" y="821.65" width="13.60" height="3.5" rx="1.75" fill="#1b4f94"/>
<polygon points="491.70,832.30 485.40,827.90 485.40,836.70" fill="#1b4f94"/>
<rect x="472.30" y="830.55" width="13.60" height="3.5" rx="1.75" fill="#1b4f94"/>
<circle cx="415.4" cy="855.3" r="3.1" fill="#1b4f94"/>
<rect x="487.90" y="850.90" width="7.2" height="2.8" fill="#1b4f94"/>
<rect x="487.90" y="857.10" width="7.2" height="2.8" fill="#1b4f94"/>
<rect x="500.60" y="850.90" width="7.2" height="2.8" fill="#1b4f94"/>
<rect x="500.60" y="857.10" width="7.2" height="2.8" fill="#1b4f94"/>
<rect x="513.30" y="850.90" width="7.2" height="2.8" fill="#1b4f94"/>
<rect x="513.30" y="857.10" width="7.2" height="2.8" fill="#1b4f94"/>
<rect x="526.00" y="850.90" width="7.2" height="2.8" fill="#1b4f94"/>
<rect x="526.00" y="857.10" width="7.2" height="2.8" fill="#1b4f94"/>
<text x="408.69" y="891.1" font-size="15.7" font-weight="normal" fill="#1b4f94" stroke="#1b4f94" stroke-width="0.7" textLength="126.43" lengthAdjust="spacingAndGlyphs">DGS-1530 Series</text>
<circle cx="186" cy="937.3" r="14.35" fill="#fff" stroke="#1b4f94" stroke-width="3.10"/>
<polygon points="194.40,920.70 177.10,938.70 184.10,939.00 177.90,952.30 194.10,936.40 187.40,935.70" fill="#fff" stroke="#fff" stroke-width="2.00" stroke-linejoin="miter"/>
<polygon points="194.40,920.70 177.10,938.70 184.10,939.00 177.90,952.30 194.10,936.40 187.40,935.70" fill="#1b4f94"/>
<g transform="translate(-34.20,-18.40)">
<path d="M74.4,1020 A19.1,5.2 0 0 1 112.6,1020 V1031.3 Q112.6,1035.6 108.4,1036.2 C107.2,1046.5 100.5,1051.9 93.5,1051.9 C86.5,1051.9 79.8,1046.5 78.6,1036.2 Q74.4,1035.6 74.4,1031.3 Z" fill="#fff" stroke="#666869" stroke-width="1.7" stroke-linejoin="round"/>
<path d="M74.6,1030 Q93.5,1024.2 112.4,1030" fill="none" stroke="#666869" stroke-width="0.9"/>
<path d="M78.6,1035.6 Q93.5,1029.4 108.4,1035.6" fill="none" stroke="#666869" stroke-width="0.9"/>
<circle cx="93.1" cy="1041.7" r="7.3" fill="none" stroke="#666869" stroke-width="0.9"/>
<circle cx="93.1" cy="1041.7" r="3.9" fill="none" stroke="#666869" stroke-width="0.9"/>
<circle cx="93.1" cy="1041.7" r="1.8" fill="#666869"/>
</g>
<g transform="translate(-17.10,-9.20)">
<path d="M74.4,1020 A19.1,5.2 0 0 1 112.6,1020 V1031.3 Q112.6,1035.6 108.4,1036.2 C107.2,1046.5 100.5,1051.9 93.5,1051.9 C86.5,1051.9 79.8,1046.5 78.6,1036.2 Q74.4,1035.6 74.4,1031.3 Z" fill="#fff" stroke="#666869" stroke-width="1.7" stroke-linejoin="round"/>
<path d="M74.6,1030 Q93.5,1024.2 112.4,1030" fill="none" stroke="#666869" stroke-width="0.9"/>
<path d="M78.6,1035.6 Q93.5,1029.4 108.4,1035.6" fill="none" stroke="#666869" stroke-width="0.9"/>
<circle cx="93.1" cy="1041.7" r="7.3" fill="none" stroke="#666869" stroke-width="0.9"/>
<circle cx="93.1" cy="1041.7" r="3.9" fill="none" stroke="#666869" stroke-width="0.9"/>
<circle cx="93.1" cy="1041.7" r="1.8" fill="#666869"/>
</g>
<g transform="translate(0.00,-0.00)">
<path d="M74.4,1020 A19.1,5.2 0 0 1 112.6,1020 V1031.3 Q112.6,1035.6 108.4,1036.2 C107.2,1046.5 100.5,1051.9 93.5,1051.9 C86.5,1051.9 79.8,1046.5 78.6,1036.2 Q74.4,1035.6 74.4,1031.3 Z" fill="#fff" stroke="#666869" stroke-width="1.7" stroke-linejoin="round"/>
<path d="M74.6,1030 Q93.5,1024.2 112.4,1030" fill="none" stroke="#666869" stroke-width="0.9"/>
<path d="M78.6,1035.6 Q93.5,1029.4 108.4,1035.6" fill="none" stroke="#666869" stroke-width="0.9"/>
<circle cx="93.1" cy="1041.7" r="7.3" fill="none" stroke="#666869" stroke-width="0.9"/>
<circle cx="93.1" cy="1041.7" r="3.9" fill="none" stroke="#666869" stroke-width="0.9"/>
<circle cx="93.1" cy="1041.7" r="1.8" fill="#666869"/>
</g>
<rect x="130.30" y="997.90" width="39.2" height="38.4" rx="12.5" ry="12.5" fill="#fff" stroke="#666869" stroke-width="1.4"/>
<rect x="142.90" y="1003.20" width="39.2" height="38.4" rx="12.5" ry="12.5" fill="#fff" stroke="#666869" stroke-width="1.4"/>
<rect x="155.50" y="1008.50" width="39.2" height="38.4" rx="12.5" ry="12.5" fill="#fff" stroke="#666869" stroke-width="1.4"/>
<rect x="168.10" y="1013.80" width="39.2" height="38.4" rx="12.5" ry="12.5" fill="#fff" stroke="#666869" stroke-width="1.4"/>
<text x="187.7" y="1034.3" font-size="3.7" font-weight="bold" fill="#333" stroke="#333" stroke-width="0.15" text-anchor="middle">D-Link</text>
<circle cx="187.9" cy="1043.6" r="0.5" fill="#777"/>
<path d="M207.4,999.0 A17.5,17.5 0 0 1 224.9,1016.5" fill="none" stroke="#1b4f94" stroke-width="3.9"/>
<path d="M207.4,1006.0 A10.5,10.5 0 0 1 217.9,1016.5" fill="none" stroke="#1b4f94" stroke-width="3.9"/>
<path d="M207.4,1016.5 V1011.4 A5.1,5.1 0 0 1 212.5,1016.5 Z" fill="#1b4f94"/>
<g transform="translate(-27.40,-11.60)" stroke="#666869" fill="#fff">
<rect x="274.9" y="1013.8" width="45" height="40.7" rx="4.2" stroke-width="1.7"/>
<rect x="279.9" y="1006.9" width="12.6" height="40.3" rx="3" stroke-width="1.7"/>
<path d="M279.9,1014 V1044.5 Q279.9,1047.2 282.6,1047.2 H289.8 Q292.5,1047.2 292.5,1044.5 V1014" fill="#fff" stroke-width="0.9"/>
<rect x="296.8" y="1019.9" width="17.6" height="8.8" rx="0.8" stroke-width="1"/>
<rect x="297.4" y="1033.9" width="3.1" height="3.1" rx="0.3" stroke-width="0.8"/>
<rect x="297.4" y="1039.3" width="3.1" height="3.1" rx="0.3" stroke-width="0.8"/>
<rect x="297.4" y="1044.7" width="3.1" height="3.1" rx="0.3" stroke-width="0.8"/>
<rect x="303.9" y="1033.9" width="3.1" height="3.1" rx="0.3" stroke-width="0.8"/>
<rect x="303.9" y="1039.3" width="3.1" height="3.1" rx="0.3" stroke-width="0.8"/>
<rect x="303.9" y="1044.7" width="3.1" height="3.1" rx="0.3" stroke-width="0.8"/>
<rect x="310.4" y="1033.9" width="3.1" height="3.1" rx="0.3" stroke-width="0.8"/>
<rect x="310.4" y="1039.3" width="3.1" height="3.1" rx="0.3" stroke-width="0.8"/>
<rect x="310.4" y="1044.7" width="3.1" height="3.1" rx="0.3" stroke-width="0.8"/>
</g>
<g transform="translate(-13.70,-5.80)" stroke="#666869" fill="#fff">
<rect x="274.9" y="1013.8" width="45" height="40.7" rx="4.2" stroke-width="1.7"/>
<rect x="279.9" y="1006.9" width="12.6" height="40.3" rx="3" stroke-width="1.7"/>
<path d="M279.9,1014 V1044.5 Q279.9,1047.2 282.6,1047.2 H289.8 Q292.5,1047.2 292.5,1044.5 V1014" fill="#fff" stroke-width="0.9"/>
<rect x="296.8" y="1019.9" width="17.6" height="8.8" rx="0.8" stroke-width="1"/>
<rect x="297.4" y="1033.9" width="3.1" height="3.1" rx="0.3" stroke-width="0.8"/>
<rect x="297.4" y="1039.3" width="3.1" height="3.1" rx="0.3" stroke-width="0.8"/>
<rect x="297.4" y="1044.7" width="3.1" height="3.1" rx="0.3" stroke-width="0.8"/>
<rect x="303.9" y="1033.9" width="3.1" height="3.1" rx="0.3" stroke-width="0.8"/>
<rect x="303.9" y="1039.3" width="3.1" height="3.1" rx="0.3" stroke-width="0.8"/>
<rect x="303.9" y="1044.7" width="3.1" height="3.1" rx="0.3" stroke-width="0.8"/>
<rect x="310.4" y="1033.9" width="3.1" height="3.1" rx="0.3" stroke-width="0.8"/>
<rect x="310.4" y="1039.3" width="3.1" height="3.1" rx="0.3" stroke-width="0.8"/>
<rect x="310.4" y="1044.7" width="3.1" height="3.1" rx="0.3" stroke-width="0.8"/>
</g>
<g transform="translate(-0.00,-0.00)" stroke="#666869" fill="#fff">
<rect x="274.9" y="1013.8" width="45" height="40.7" rx="4.2" stroke-width="1.7"/>
<rect x="279.9" y="1006.9" width="12.6" height="40.3" rx="3" stroke-width="1.7"/>
<path d="M279.9,1014 V1044.5 Q279.9,1047.2 282.6,1047.2 H289.8 Q292.5,1047.2 292.5,1044.5 V1014" fill="#fff" stroke-width="0.9"/>
<rect x="296.8" y="1019.9" width="17.6" height="8.8" rx="0.8" stroke-width="1"/>
<rect x="297.4" y="1033.9" width="3.1" height="3.1" rx="0.3" stroke-width="0.8"/>
<rect x="297.4" y="1039.3" width="3.1" height="3.1" rx="0.3" stroke-width="0.8"/>
<rect x="297.4" y="1044.7" width="3.1" height="3.1" rx="0.3" stroke-width="0.8"/>
<rect x="303.9" y="1033.9" width="3.1" height="3.1" rx="0.3" stroke-width="0.8"/>
<rect x="303.9" y="1039.3" width="3.1" height="3.1" rx="0.3" stroke-width="0.8"/>
<rect x="303.9" y="1044.7" width="3.1" height="3.1" rx="0.3" stroke-width="0.8"/>
<rect x="310.4" y="1033.9" width="3.1" height="3.1" rx="0.3" stroke-width="0.8"/>
<rect x="310.4" y="1039.3" width="3.1" height="3.1" rx="0.3" stroke-width="0.8"/>
<rect x="310.4" y="1044.7" width="3.1" height="3.1" rx="0.3" stroke-width="0.8"/>
</g>
<text x="39.84" y="1086.6" font-size="15.9" font-weight="normal" fill="#5f6162" stroke="#5f6162" stroke-width="0.52" textLength="73.36" lengthAdjust="spacingAndGlyphs">IP Camera</text>
<text x="134.08" y="1086.6" font-size="15.9" font-weight="normal" fill="#5f6162" stroke="#5f6162" stroke-width="0.52" textLength="87.96" lengthAdjust="spacingAndGlyphs">Access Point</text>
<text x="250.69" y="1086.6" font-size="15.9" font-weight="normal" fill="#5f6162" stroke="#5f6162" stroke-width="0.52" textLength="64.46" lengthAdjust="spacingAndGlyphs">IP Phone</text>
<g transform="translate(-25.90,-16.10)" stroke="#666869" fill="#fff">
<rect x="420" y="1013" width="44.3" height="33.1" rx="2.4" stroke-width="1.5"/>
<rect x="424" y="1016" width="37.2" height="24.8" stroke-width="0.9"/>
<path d="M436.3,1046.3 L434.4,1050.6 Q430.6,1051.2 430.8,1053.1 H449 Q449.2,1051.2 445.4,1050.6 L443.5,1046.3" stroke-width="1.2"/>
<path d="M401.2,1051.6 V1014.6 Q401.2,1012.8 402.2,1011.8 L403.4,1010.5 Q404.3,1009.6 405.8,1009.6 H421.4 Q422.9,1009.6 423.8,1010.5 L425,1011.8 Q426,1012.8 426,1014.6 V1051.6 Q426,1054.7 422.9,1054.7 H404.3 Q401.2,1054.7 401.2,1051.6 Z" stroke-width="1.7" stroke-linejoin="round"/>
<line x1="402" y1="1013.8" x2="425.2" y2="1013.8" stroke-width="0.9"/>
<rect x="407.8" y="1018.9" width="12.3" height="3.8" stroke-width="0.9"/>
<rect x="407.8" y="1026.3" width="12.3" height="3.8" stroke-width="0.9"/>
<rect x="407.8" y="1033.9" width="12.3" height="3.8" stroke-width="0.9"/>
<circle cx="413.8" cy="1046.6" r="2.5" stroke-width="0.9"/>
</g>
<g transform="translate(-12.95,-8.05)" stroke="#666869" fill="#fff">
<rect x="420" y="1013" width="44.3" height="33.1" rx="2.4" stroke-width="1.5"/>
<rect x="424" y="1016" width="37.2" height="24.8" stroke-width="0.9"/>
<path d="M436.3,1046.3 L434.4,1050.6 Q430.6,1051.2 430.8,1053.1 H449 Q449.2,1051.2 445.4,1050.6 L443.5,1046.3" stroke-width="1.2"/>
<path d="M401.2,1051.6 V1014.6 Q401.2,1012.8 402.2,1011.8 L403.4,1010.5 Q404.3,1009.6 405.8,1009.6 H421.4 Q422.9,1009.6 423.8,1010.5 L425,1011.8 Q426,1012.8 426,1014.6 V1051.6 Q426,1054.7 422.9,1054.7 H404.3 Q401.2,1054.7 401.2,1051.6 Z" stroke-width="1.7" stroke-linejoin="round"/>
<line x1="402" y1="1013.8" x2="425.2" y2="1013.8" stroke-width="0.9"/>
<rect x="407.8" y="1018.9" width="12.3" height="3.8" stroke-width="0.9"/>
<rect x="407.8" y="1026.3" width="12.3" height="3.8" stroke-width="0.9"/>
<rect x="407.8" y="1033.9" width="12.3" height="3.8" stroke-width="0.9"/>
<circle cx="413.8" cy="1046.6" r="2.5" stroke-width="0.9"/>
</g>
<g transform="translate(0.00,-0.00)" stroke="#666869" fill="#fff">
<rect x="420" y="1013" width="44.3" height="33.1" rx="2.4" stroke-width="1.5"/>
<rect x="424" y="1016" width="37.2" height="24.8" stroke-width="0.9"/>
<path d="M436.3,1046.3 L434.4,1050.6 Q430.6,1051.2 430.8,1053.1 H449 Q449.2,1051.2 445.4,1050.6 L443.5,1046.3" stroke-width="1.2"/>
<path d="M401.2,1051.6 V1014.6 Q401.2,1012.8 402.2,1011.8 L403.4,1010.5 Q404.3,1009.6 405.8,1009.6 H421.4 Q422.9,1009.6 423.8,1010.5 L425,1011.8 Q426,1012.8 426,1014.6 V1051.6 Q426,1054.7 422.9,1054.7 H404.3 Q401.2,1054.7 401.2,1051.6 Z" stroke-width="1.7" stroke-linejoin="round"/>
<line x1="402" y1="1013.8" x2="425.2" y2="1013.8" stroke-width="0.9"/>
<rect x="407.8" y="1018.9" width="12.3" height="3.8" stroke-width="0.9"/>
<rect x="407.8" y="1026.3" width="12.3" height="3.8" stroke-width="0.9"/>
<rect x="407.8" y="1033.9" width="12.3" height="3.8" stroke-width="0.9"/>
<circle cx="413.8" cy="1046.6" r="2.5" stroke-width="0.9"/>
</g>
<g transform="translate(-21.10,-6.90)" stroke="#666869" fill="#fff">
<path d="M526.9,1023 V1006.5 H548.3 L553.8,1011.6 V1023" stroke-width="1.7" stroke-linejoin="miter"/>
<path d="M548.2,1006.8 V1011.5 H553.4" fill="none" stroke-width="0.9"/>
<path d="M513.1,1049.9 V1026.5 Q513.1,1022.9 516.7,1022.9 H564.4 Q568,1022.9 568,1026.5 V1049.9 Z" stroke-width="1.7" stroke-linejoin="miter"/>
<line x1="527.8" y1="1022.9" x2="553" y2="1022.9" stroke="#fff" stroke-width="1.9"/>
<line x1="527.4" y1="1023.2" x2="553.4" y2="1023.2" stroke-width="0.9"/>
<line x1="513.5" y1="1032.4" x2="567.6" y2="1032.4" stroke-width="0.9"/>
<line x1="513.5" y1="1046.6" x2="567.6" y2="1046.6" stroke-width="0.9"/>
<path d="M527,1049.5 V1044.3 Q527,1042.5 528.8,1042.5 H552.4 Q554.2,1042.5 554.2,1044.3 V1049.5" stroke-width="0.9"/>
<path d="M531.2,1049.5 V1047.4 H549.6 V1049.5" stroke-width="0.9"/>
<circle cx="517.5" cy="1026.3" r="1.15" fill="#666869" stroke="none"/>
</g>
<g transform="translate(0.00,0.00)" stroke="#666869" fill="#fff">
<path d="M526.9,1023 V1006.5 H548.3 L553.8,1011.6 V1023" stroke-width="1.7" stroke-linejoin="miter"/>
<path d="M548.2,1006.8 V1011.5 H553.4" fill="none" stroke-width="0.9"/>
<path d="M513.1,1049.9 V1026.5 Q513.1,1022.9 516.7,1022.9 H564.4 Q568,1022.9 568,1026.5 V1049.9 Z" stroke-width="1.7" stroke-linejoin="miter"/>
<line x1="527.8" y1="1022.9" x2="553" y2="1022.9" stroke="#fff" stroke-width="1.9"/>
<line x1="527.4" y1="1023.2" x2="553.4" y2="1023.2" stroke-width="0.9"/>
<line x1="513.5" y1="1032.4" x2="567.6" y2="1032.4" stroke-width="0.9"/>
<line x1="513.5" y1="1046.6" x2="567.6" y2="1046.6" stroke-width="0.9"/>
<path d="M527,1049.5 V1044.3 Q527,1042.5 528.8,1042.5 H552.4 Q554.2,1042.5 554.2,1044.3 V1049.5" stroke-width="0.9"/>
<path d="M531.2,1049.5 V1047.4 H549.6 V1049.5" stroke-width="0.9"/>
<circle cx="517.5" cy="1026.3" r="1.15" fill="#666869" stroke="none"/>
</g>
<text x="416.13" y="1086.6" font-size="15.9" font-weight="normal" fill="#5f6162" stroke="#5f6162" stroke-width="0.52" textLength="18.76" lengthAdjust="spacingAndGlyphs">PC</text>
<text x="505.05" y="1086.6" font-size="15.9" font-weight="normal" fill="#5f6162" stroke="#5f6162" stroke-width="0.52" textLength="50.04" lengthAdjust="spacingAndGlyphs">Printer</text>
<g transform="translate(28.00,315.50)" stroke="#666869" fill="#fff">
<path d="M653.7,310.2 V250.6 Q653.7,247.1 657.2,247.1 H691.5 Q695,247.1 695,250.6 V310.2" stroke-width="1.3"/>
<rect x="650" y="310.2" width="48.5" height="6.8" rx="0.8" stroke-width="1.3"/>
<rect x="659.6" y="253.6" width="29.8" height="8.8" rx="2" stroke-width="0.9"/>
<line x1="663" y1="258.0" x2="671.7" y2="258.0" stroke-width="1.4"/>
<circle cx="682.8" cy="258.0" r="1.3" fill="#666869" stroke="none"/>
<rect x="659.6" y="266.3" width="29.8" height="8.8" rx="2" stroke-width="0.9"/>
<line x1="663" y1="270.7" x2="671.7" y2="270.7" stroke-width="1.4"/>
<circle cx="682.8" cy="270.7" r="1.3" fill="#666869" stroke="none"/>
<rect x="659.6" y="278.9" width="29.8" height="8.8" rx="2" stroke-width="0.9"/>
<line x1="663" y1="283.29999999999995" x2="671.7" y2="283.29999999999995" stroke-width="1.4"/>
<circle cx="682.8" cy="283.29999999999995" r="1.3" fill="#666869" stroke="none"/>
<rect x="659.6" y="291.6" width="29.8" height="8.8" rx="2" stroke-width="0.9"/>
<line x1="663" y1="296.0" x2="671.7" y2="296.0" stroke-width="1.4"/>
<circle cx="682.8" cy="296.0" r="1.3" fill="#666869" stroke="none"/>
</g>
<g transform="translate(81.80,315.50)" stroke="#666869" fill="#fff">
<path d="M653.7,310.2 V250.6 Q653.7,247.1 657.2,247.1 H691.5 Q695,247.1 695,250.6 V310.2" stroke-width="1.3"/>
<rect x="650" y="310.2" width="48.5" height="6.8" rx="0.8" stroke-width="1.3"/>
<rect x="659.6" y="253.6" width="29.8" height="8.8" rx="2" stroke-width="0.9"/>
<line x1="663" y1="258.0" x2="671.7" y2="258.0" stroke-width="1.4"/>
<circle cx="682.8" cy="258.0" r="1.3" fill="#666869" stroke="none"/>
<rect x="659.6" y="266.3" width="29.8" height="8.8" rx="2" stroke-width="0.9"/>
<line x1="663" y1="270.7" x2="671.7" y2="270.7" stroke-width="1.4"/>
<circle cx="682.8" cy="270.7" r="1.3" fill="#666869" stroke="none"/>
<rect x="659.6" y="278.9" width="29.8" height="8.8" rx="2" stroke-width="0.9"/>
<line x1="663" y1="283.29999999999995" x2="671.7" y2="283.29999999999995" stroke-width="1.4"/>
<circle cx="682.8" cy="283.29999999999995" r="1.3" fill="#666869" stroke="none"/>
<rect x="659.6" y="291.6" width="29.8" height="8.8" rx="2" stroke-width="0.9"/>
<line x1="663" y1="296.0" x2="671.7" y2="296.0" stroke-width="1.4"/>
<circle cx="682.8" cy="296.0" r="1.3" fill="#666869" stroke="none"/>
</g>
<g transform="translate(135.00,315.50)" stroke="#666869" fill="#fff">
<path d="M653.7,310.2 V250.6 Q653.7,247.1 657.2,247.1 H691.5 Q695,247.1 695,250.6 V310.2" stroke-width="1.3"/>
<rect x="650" y="310.2" width="48.5" height="6.8" rx="0.8" stroke-width="1.3"/>
<rect x="659.6" y="253.6" width="29.8" height="8.8" rx="2" stroke-width="0.9"/>
<line x1="663" y1="258.0" x2="671.7" y2="258.0" stroke-width="1.4"/>
<circle cx="682.8" cy="258.0" r="1.3" fill="#666869" stroke="none"/>
<rect x="659.6" y="266.3" width="29.8" height="8.8" rx="2" stroke-width="0.9"/>
<line x1="663" y1="270.7" x2="671.7" y2="270.7" stroke-width="1.4"/>
<circle cx="682.8" cy="270.7" r="1.3" fill="#666869" stroke="none"/>
<rect x="659.6" y="278.9" width="29.8" height="8.8" rx="2" stroke-width="0.9"/>
<line x1="663" y1="283.29999999999995" x2="671.7" y2="283.29999999999995" stroke-width="1.4"/>
<circle cx="682.8" cy="283.29999999999995" r="1.3" fill="#666869" stroke="none"/>
<rect x="659.6" y="291.6" width="29.8" height="8.8" rx="2" stroke-width="0.9"/>
<line x1="663" y1="296.0" x2="671.7" y2="296.0" stroke-width="1.4"/>
<circle cx="682.8" cy="296.0" r="1.3" fill="#666869" stroke="none"/>
</g>
<text x="689.31" y="656.7" font-size="15.9" font-weight="normal" fill="#5f6162" stroke="#5f6162" stroke-width="0.52" textLength="133.38" lengthAdjust="spacingAndGlyphs">Server &amp; Storage</text>
<path d="M939.15,536.15 L1049.65,536.15 Q1052.65,536.15 1053.73,538.95 L1066.04,570.60 L1066.04,586.04 Q1066.04,590.04 1062.04,590.04 L925.25,590.04 Q921.25,590.04 921.25,586.04 L921.25,570.60 L934.96,538.91 Q936.15,536.15 939.15,536.15 Z" fill="#fff" stroke="#666869" stroke-width="1.7" stroke-linejoin="round"/>
<line x1="921.25" y1="570.60" x2="1066.04" y2="570.60" stroke="#909292" stroke-width="0.9"/>
<path d="M993.63,543.10 C998.58,545.52 1001.88,548.16 1001.99,551.90 C1003.20,551.68 1004.08,550.91 1004.41,549.70 C1007.38,554.10 1006.94,563.12 993.30,563.23 C979.66,563.12 978.12,553.88 985.38,547.61 C985.82,549.04 987.14,549.81 988.90,550.03 C988.90,547.50 990.44,544.86 993.63,543.10 Z" fill="#666869"/>
<path d="M993.30,554.54 C994.84,556.08 996.38,556.96 996.38,558.28 C996.38,559.82 994.95,560.59 993.30,560.59 C991.65,560.59 990.22,559.82 990.22,558.28 C990.22,556.96 991.76,556.08 993.30,554.54 Z" fill="#fff"/>
<rect x="936.6" y="575.6" width="42.6" height="7.8" rx="1.8" fill="#fff" stroke="#8a8c8c" stroke-width="1"/>
<path d="M1008.8,582.8 V578.0999999999999 H1010.4 V576.3 H1014.9999999999999 V578.0999999999999 H1016.5999999999999 V582.8 Z" fill="#666869"/>
<path d="M1020.9,582.8 V578.0999999999999 H1022.5 V576.3 H1027.1000000000001 V578.0999999999999 H1028.7 V582.8 Z" fill="#666869"/>
<path d="M1033.1,582.8 V578.0999999999999 H1034.6999999999998 V576.3 H1039.3 V578.0999999999999 H1040.8999999999999 V582.8 Z" fill="#666869"/>
<path d="M1045.3,582.8 V578.0999999999999 H1046.8999999999999 V576.3 H1051.5 V578.0999999999999 H1053.1 V582.8 Z" fill="#666869"/>
<text x="932.43" y="613.0" font-size="15.9" font-weight="normal" fill="#5f6162" stroke="#5f6162" stroke-width="0.52" textLength="122.31" lengthAdjust="spacingAndGlyphs">Firewall/Router</text>
<path d="M939.55,666.46 L1049.05,666.46 Q1052.05,666.46 1053.18,669.23 L1064.44,697.00 L1064.44,712.04 Q1064.44,716.04 1060.44,716.04 L927.55,716.04 Q923.55,716.04 923.55,712.04 L923.55,697.00 L935.38,669.22 Q936.55,666.46 939.55,666.46 Z" fill="#fff" stroke="#666869" stroke-width="1.7" stroke-linejoin="round"/>
<line x1="923.55" y1="697.00" x2="1064.44" y2="697.00" stroke="#909292" stroke-width="0.9"/>
<circle cx="937.1" cy="705.8" r="3.2" fill="#666869"/>
<rect x="1010.20" y="701.80" width="7.2" height="2.6" fill="#666869"/>
<rect x="1010.20" y="707.60" width="7.2" height="2.6" fill="#666869"/>
<rect x="1022.90" y="701.80" width="7.2" height="2.6" fill="#666869"/>
<rect x="1022.90" y="707.60" width="7.2" height="2.6" fill="#666869"/>
<rect x="1035.30" y="701.80" width="7.2" height="2.6" fill="#666869"/>
<rect x="1035.30" y="707.60" width="7.2" height="2.6" fill="#666869"/>
<rect x="1048.10" y="701.80" width="7.2" height="2.6" fill="#666869"/>
<rect x="1048.10" y="707.60" width="7.2" height="2.6" fill="#666869"/>
<line x1="993.60" y1="669.40" x2="993.60" y2="672.90" stroke="#666869" stroke-width="2.2"/>
<polygon points="993.60,677.40 989.50,672.90 997.70,672.90" fill="#666869"/>
<line x1="976.80" y1="691.20" x2="982.63" y2="687.75" stroke="#666869" stroke-width="3.1"/>
<polygon points="987.80,684.70 985.13,691.97 980.14,683.53" fill="#666869"/>
<line x1="1010.40" y1="691.20" x2="1004.57" y2="687.75" stroke="#666869" stroke-width="3.1"/>
<polygon points="999.40,684.70 1007.06,683.53 1002.07,691.97" fill="#666869"/>
<ellipse cx="993.6" cy="682.5" rx="5.6" ry="3.9" fill="#fff" stroke="#666869" stroke-width="1.4"/>
<text x="917.20" y="737.6" font-size="15.9" font-weight="normal" fill="#5f6162" stroke="#5f6162" stroke-width="0.52" textLength="154.76" lengthAdjust="spacingAndGlyphs">Aggregation Switch</text>
<path d="M693.85,819.55 L802.15,819.55 Q805.15,819.55 806.30,822.32 L817.54,849.30 L817.54,864.54 Q817.54,868.54 813.54,868.54 L681.15,868.54 Q677.15,868.54 677.15,864.54 L677.15,849.30 L689.60,822.28 Q690.85,819.55 693.85,819.55 Z" fill="#fff" stroke="#666869" stroke-width="1.7" stroke-linejoin="round"/>
<line x1="677.15" y1="849.30" x2="817.54" y2="849.30" stroke="#909292" stroke-width="0.9"/>
<polygon points="708.90,831.20 715.40,826.60 715.40,835.80" fill="#666869"/>
<rect x="714.90" y="829.35" width="12.80" height="3.7" rx="1.85" fill="#666869"/>
<polygon points="714.10,839.80 720.60,835.20 720.60,844.40" fill="#666869"/>
<rect x="720.10" y="837.95" width="12.80" height="3.7" rx="1.85" fill="#666869"/>
<polygon points="790.00,826.90 783.50,822.30 783.50,831.50" fill="#666869"/>
<rect x="771.20" y="825.05" width="12.80" height="3.7" rx="1.85" fill="#666869"/>
<polygon points="787.20,835.50 780.70,830.90 780.70,840.10" fill="#666869"/>
<rect x="768.20" y="833.65" width="13.00" height="3.7" rx="1.85" fill="#666869"/>
<circle cx="749.1" cy="823.1" r="19.1" fill="#fff" stroke="#666869" stroke-width="1.4"/>
<polygon points="757.70,806.70 740.40,823.50 748.00,825.10 740.50,841.10 759.40,821.10 751.80,820.70" fill="#666869"/>
<circle cx="690.7" cy="858.6" r="3.1" fill="#666869"/>
<rect x="763.10" y="854.20" width="7.2" height="2.8" fill="#666869"/>
<rect x="763.10" y="860.40" width="7.2" height="2.8" fill="#666869"/>
<rect x="775.80" y="854.20" width="7.2" height="2.8" fill="#666869"/>
<rect x="775.80" y="860.40" width="7.2" height="2.8" fill="#666869"/>
<rect x="788.50" y="854.20" width="7.2" height="2.8" fill="#666869"/>
<rect x="788.50" y="860.40" width="7.2" height="2.8" fill="#666869"/>
<rect x="801.20" y="854.20" width="7.2" height="2.8" fill="#666869"/>
<rect x="801.20" y="860.40" width="7.2" height="2.8" fill="#666869"/>
<text x="639.77" y="891.1" font-size="15.9" font-weight="normal" fill="#5f6162" stroke="#5f6162" stroke-width="0.52" textLength="214.88" lengthAdjust="spacingAndGlyphs">Standard Smart PoE Switch</text>
<path d="M949.75,815.96 L1057.05,815.96 Q1060.05,815.96 1061.27,818.70 L1073.64,846.50 L1073.64,861.04 Q1073.64,865.04 1069.64,865.04 L936.96,865.04 Q932.96,865.04 932.96,861.04 L932.96,846.50 L945.52,818.69 Q946.75,815.96 949.75,815.96 Z" fill="#fff" stroke="#666869" stroke-width="1.7" stroke-linejoin="round"/>
<line x1="932.96" y1="846.50" x2="1073.64" y2="846.50" stroke="#909292" stroke-width="0.9"/>
<polygon points="987.50,827.80 993.80,823.40 993.80,832.20" fill="#666869"/>
<rect x="993.30" y="826.05" width="13.20" height="3.5" rx="1.75" fill="#666869"/>
<polygon points="987.50,836.60 993.80,832.20 993.80,841.00" fill="#666869"/>
<rect x="993.30" y="834.85" width="13.20" height="3.5" rx="1.75" fill="#666869"/>
<polygon points="1023.20,823.40 1016.90,819.00 1016.90,827.80" fill="#666869"/>
<rect x="1003.80" y="821.65" width="13.60" height="3.5" rx="1.75" fill="#666869"/>
<polygon points="1023.20,832.30 1016.90,827.90 1016.90,836.70" fill="#666869"/>
<rect x="1003.80" y="830.55" width="13.60" height="3.5" rx="1.75" fill="#666869"/>
<circle cx="946.5" cy="855.3" r="3.1" fill="#666869"/>
<rect x="1019.20" y="851.00" width="7.2" height="2.8" fill="#666869"/>
<rect x="1019.20" y="857.20" width="7.2" height="2.8" fill="#666869"/>
<rect x="1031.90" y="851.00" width="7.2" height="2.8" fill="#666869"/>
<rect x="1031.90" y="857.20" width="7.2" height="2.8" fill="#666869"/>
<rect x="1044.60" y="851.00" width="7.2" height="2.8" fill="#666869"/>
<rect x="1044.60" y="857.20" width="7.2" height="2.8" fill="#666869"/>
<rect x="1057.30" y="851.00" width="7.2" height="2.8" fill="#666869"/>
<rect x="1057.30" y="857.20" width="7.2" height="2.8" fill="#666869"/>
<text x="913.12" y="891.4" font-size="15.9" font-weight="normal" fill="#5f6162" stroke="#5f6162" stroke-width="0.52" textLength="180.05" lengthAdjust="spacingAndGlyphs">Standard Smart Switch</text>
<circle cx="747.5" cy="934.7" r="14.35" fill="#eef0ef" stroke="#1b4f94" stroke-width="3.10"/>
<polygon points="755.90,918.10 738.60,936.10 745.60,936.40 739.40,949.70 755.60,933.80 748.90,933.10" fill="#eef0ef" stroke="#eef0ef" stroke-width="2.00" stroke-linejoin="miter"/>
<polygon points="755.90,918.10 738.60,936.10 745.60,936.40 739.40,949.70 755.60,933.80 748.90,933.10" fill="#1b4f94"/>
<g transform="translate(580.10,-18.40)">
<path d="M74.4,1020 A19.1,5.2 0 0 1 112.6,1020 V1031.3 Q112.6,1035.6 108.4,1036.2 C107.2,1046.5 100.5,1051.9 93.5,1051.9 C86.5,1051.9 79.8,1046.5 78.6,1036.2 Q74.4,1035.6 74.4,1031.3 Z" fill="#fff" stroke="#666869" stroke-width="1.7" stroke-linejoin="round"/>
<path d="M74.6,1030 Q93.5,1024.2 112.4,1030" fill="none" stroke="#666869" stroke-width="0.9"/>
<path d="M78.6,1035.6 Q93.5,1029.4 108.4,1035.6" fill="none" stroke="#666869" stroke-width="0.9"/>
<circle cx="93.1" cy="1041.7" r="7.3" fill="none" stroke="#666869" stroke-width="0.9"/>
<circle cx="93.1" cy="1041.7" r="3.9" fill="none" stroke="#666869" stroke-width="0.9"/>
<circle cx="93.1" cy="1041.7" r="1.8" fill="#666869"/>
</g>
<g transform="translate(597.20,-9.20)">
<path d="M74.4,1020 A19.1,5.2 0 0 1 112.6,1020 V1031.3 Q112.6,1035.6 108.4,1036.2 C107.2,1046.5 100.5,1051.9 93.5,1051.9 C86.5,1051.9 79.8,1046.5 78.6,1036.2 Q74.4,1035.6 74.4,1031.3 Z" fill="#fff" stroke="#666869" stroke-width="1.7" stroke-linejoin="round"/>
<path d="M74.6,1030 Q93.5,1024.2 112.4,1030" fill="none" stroke="#666869" stroke-width="0.9"/>
<path d="M78.6,1035.6 Q93.5,1029.4 108.4,1035.6" fill="none" stroke="#666869" stroke-width="0.9"/>
<circle cx="93.1" cy="1041.7" r="7.3" fill="none" stroke="#666869" stroke-width="0.9"/>
<circle cx="93.1" cy="1041.7" r="3.9" fill="none" stroke="#666869" stroke-width="0.9"/>
<circle cx="93.1" cy="1041.7" r="1.8" fill="#666869"/>
</g>
<g transform="translate(614.30,-0.00)">
<path d="M74.4,1020 A19.1,5.2 0 0 1 112.6,1020 V1031.3 Q112.6,1035.6 108.4,1036.2 C107.2,1046.5 100.5,1051.9 93.5,1051.9 C86.5,1051.9 79.8,1046.5 78.6,1036.2 Q74.4,1035.6 74.4,1031.3 Z" fill="#fff" stroke="#666869" stroke-width="1.7" stroke-linejoin="round"/>
<path d="M74.6,1030 Q93.5,1024.2 112.4,1030" fill="none" stroke="#666869" stroke-width="0.9"/>
<path d="M78.6,1035.6 Q93.5,1029.4 108.4,1035.6" fill="none" stroke="#666869" stroke-width="0.9"/>
<circle cx="93.1" cy="1041.7" r="7.3" fill="none" stroke="#666869" stroke-width="0.9"/>
<circle cx="93.1" cy="1041.7" r="3.9" fill="none" stroke="#666869" stroke-width="0.9"/>
<circle cx="93.1" cy="1041.7" r="1.8" fill="#666869"/>
</g>
<rect x="750.30" y="998.20" width="39.2" height="38.4" rx="12.5" ry="12.5" fill="#fff" stroke="#666869" stroke-width="1.4"/>
<rect x="763.00" y="1003.50" width="39.2" height="38.4" rx="12.5" ry="12.5" fill="#fff" stroke="#666869" stroke-width="1.4"/>
<rect x="775.70" y="1008.80" width="39.2" height="38.4" rx="12.5" ry="12.5" fill="#fff" stroke="#666869" stroke-width="1.4"/>
<rect x="788.40" y="1014.10" width="39.2" height="38.4" rx="12.5" ry="12.5" fill="#fff" stroke="#666869" stroke-width="1.4"/>
<text x="808.0" y="1034.6" font-size="3.7" font-weight="bold" fill="#333" stroke="#333" stroke-width="0.15" text-anchor="middle">D-Link</text>
<circle cx="808.2" cy="1043.9" r="0.5" fill="#777"/>
<path d="M827.6,998.8 A17.5,17.5 0 0 1 845.1,1016.3" fill="none" stroke="#1b4f94" stroke-width="3.9"/>
<path d="M827.6,1005.8 A10.5,10.5 0 0 1 838.1,1016.3" fill="none" stroke="#1b4f94" stroke-width="3.9"/>
<path d="M827.6,1016.3 V1011.1999999999999 A5.1,5.1 0 0 1 832.7,1016.3 Z" fill="#1b4f94"/>
<g transform="translate(-26.00,-16.70)" stroke="#666869" fill="#fff">
<rect x="941.2" y="1015.2" width="54.6" height="35" stroke-width="1.4"/>
<rect x="943.9" y="1018" width="49.2" height="29.6" stroke-width="0.8"/>
<path d="M935.7,1050.2 H1001 V1051.6 Q1001,1054.2 998,1054.2 H938.7 Q935.7,1054.2 935.7,1051.6 Z" stroke-width="1.3"/>
<path d="M962.5,1050.4 Q963,1052 965,1052 H972 Q974,1052 974.5,1050.4" fill="none" stroke-width="0.8"/>
</g>
<g transform="translate(-13.00,-8.35)" stroke="#666869" fill="#fff">
<rect x="941.2" y="1015.2" width="54.6" height="35" stroke-width="1.4"/>
<rect x="943.9" y="1018" width="49.2" height="29.6" stroke-width="0.8"/>
<path d="M935.7,1050.2 H1001 V1051.6 Q1001,1054.2 998,1054.2 H938.7 Q935.7,1054.2 935.7,1051.6 Z" stroke-width="1.3"/>
<path d="M962.5,1050.4 Q963,1052 965,1052 H972 Q974,1052 974.5,1050.4" fill="none" stroke-width="0.8"/>
</g>
<g transform="translate(-0.00,-0.00)" stroke="#666869" fill="#fff">
<rect x="941.2" y="1015.2" width="54.6" height="35" stroke-width="1.4"/>
<rect x="943.9" y="1018" width="49.2" height="29.6" stroke-width="0.8"/>
<path d="M935.7,1050.2 H1001 V1051.6 Q1001,1054.2 998,1054.2 H938.7 Q935.7,1054.2 935.7,1051.6 Z" stroke-width="1.3"/>
<path d="M962.5,1050.4 Q963,1052 965,1052 H972 Q974,1052 974.5,1050.4" fill="none" stroke-width="0.8"/>
</g>
<g transform="translate(511.40,-6.90)" stroke="#666869" fill="#fff">
<path d="M526.9,1023 V1006.5 H548.3 L553.8,1011.6 V1023" stroke-width="1.7" stroke-linejoin="miter"/>
<path d="M548.2,1006.8 V1011.5 H553.4" fill="none" stroke-width="0.9"/>
<path d="M513.1,1049.9 V1026.5 Q513.1,1022.9 516.7,1022.9 H564.4 Q568,1022.9 568,1026.5 V1049.9 Z" stroke-width="1.7" stroke-linejoin="miter"/>
<line x1="527.8" y1="1022.9" x2="553" y2="1022.9" stroke="#fff" stroke-width="1.9"/>
<line x1="527.4" y1="1023.2" x2="553.4" y2="1023.2" stroke-width="0.9"/>
<line x1="513.5" y1="1032.4" x2="567.6" y2="1032.4" stroke-width="0.9"/>
<line x1="513.5" y1="1046.6" x2="567.6" y2="1046.6" stroke-width="0.9"/>
<path d="M527,1049.5 V1044.3 Q527,1042.5 528.8,1042.5 H552.4 Q554.2,1042.5 554.2,1044.3 V1049.5" stroke-width="0.9"/>
<path d="M531.2,1049.5 V1047.4 H549.6 V1049.5" stroke-width="0.9"/>
<circle cx="517.5" cy="1026.3" r="1.15" fill="#666869" stroke="none"/>
</g>
<g transform="translate(532.50,0.00)" stroke="#666869" fill="#fff">
<path d="M526.9,1023 V1006.5 H548.3 L553.8,1011.6 V1023" stroke-width="1.7" stroke-linejoin="miter"/>
<path d="M548.2,1006.8 V1011.5 H553.4" fill="none" stroke-width="0.9"/>
<path d="M513.1,1049.9 V1026.5 Q513.1,1022.9 516.7,1022.9 H564.4 Q568,1022.9 568,1026.5 V1049.9 Z" stroke-width="1.7" stroke-linejoin="miter"/>
<line x1="527.8" y1="1022.9" x2="553" y2="1022.9" stroke="#fff" stroke-width="1.9"/>
<line x1="527.4" y1="1023.2" x2="553.4" y2="1023.2" stroke-width="0.9"/>
<line x1="513.5" y1="1032.4" x2="567.6" y2="1032.4" stroke-width="0.9"/>
<line x1="513.5" y1="1046.6" x2="567.6" y2="1046.6" stroke-width="0.9"/>
<path d="M527,1049.5 V1044.3 Q527,1042.5 528.8,1042.5 H552.4 Q554.2,1042.5 554.2,1044.3 V1049.5" stroke-width="0.9"/>
<path d="M531.2,1049.5 V1047.4 H549.6 V1049.5" stroke-width="0.9"/>
<circle cx="517.5" cy="1026.3" r="1.15" fill="#666869" stroke="none"/>
</g>
<text x="653.17" y="1086.5" font-size="15.9" font-weight="normal" fill="#5f6162" stroke="#5f6162" stroke-width="0.52" textLength="73.48" lengthAdjust="spacingAndGlyphs">IP Camera</text>
<text x="753.97" y="1086.5" font-size="15.9" font-weight="normal" fill="#5f6162" stroke="#5f6162" stroke-width="0.52" textLength="88.44" lengthAdjust="spacingAndGlyphs">Access Point</text>
<text x="949.38" y="1086.5" font-size="15.9" font-weight="normal" fill="#5f6162" stroke="#5f6162" stroke-width="0.52" textLength="18.53" lengthAdjust="spacingAndGlyphs">PC</text>
<text x="1037.44" y="1086.5" font-size="15.9" font-weight="normal" fill="#5f6162" stroke="#5f6162" stroke-width="0.52" textLength="49.34" lengthAdjust="spacingAndGlyphs">Printer</text>
</svg></body></html>
